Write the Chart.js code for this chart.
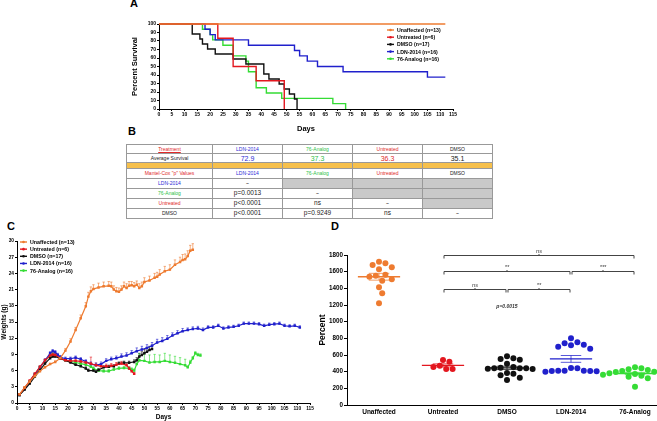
<!DOCTYPE html>
<html>
<head>
<meta charset="utf-8">
<script src="https://cdn.jsdelivr.net/npm/chart.js@4.4.1/dist/chart.umd.min.js"></script>
<style>
    html, body { margin: 0; padding: 0; width: 657px; height: 421px; overflow: hidden; background: #fff; }
    body { position: relative; font-family: "Liberation Sans", Arial, sans-serif; }
    canvas { position: absolute; }
    .panel { position: absolute; font-weight: bold; font-size: 11px; line-height: 11px; color: #000; }
    #survivalTable { position: absolute; left: 126px; top: 144px; width: 366px; border-collapse: collapse; table-layout: fixed;
        font-family: "Liberation Sans Narrow", "Liberation Sans", Arial, sans-serif; }
    #survivalTable td { border: 1px solid #999; padding: 0; text-align: center; vertical-align: middle; font-size: 5px;
        line-height: 5px; height: 8px; white-space: nowrap; overflow: hidden; color: #222; }
    #survivalTable tr.band td { background: #f6c04c; height: 5px; }
    #survivalTable tr.pv td { height: 9px; }
    #survivalTable td.gray { background: #c9c9c9; }
    #survivalTable td.big { font-size: 7px; line-height: 7px; }
    #survivalTable td.mid { font-size: 6.5px; line-height: 6.5px; }
    #survivalTable td.u { text-decoration: underline; }
</style>
</head>
<body>
<div class="panel" style="left:130px;top:-2px">A</div>
<div class="panel" style="left:128px;top:126px">B</div>
<div class="panel" style="left:7px;top:221px">C</div>
<div class="panel" style="left:331px;top:221px">D</div>

<canvas id="survival" width="340" height="126" style="left:128px;top:12px"></canvas>
<table id="survivalTable"></table>
<canvas id="weights" width="320" height="189" style="left:0px;top:232px"></canvas>
<canvas id="percent" width="360" height="189" style="left:318px;top:232px"></canvas>

<script>
    /* === DATA === */
    const groupNames = ["Unaffected (n=13)", "Untreated (n=6)", "DMSO (n=17)", "LDN-2014 (n=16)", "76-Analog (n=16)"];
    const groupColors = ["#ee7b30", "#e3171f", "#111111", "#2020cc", "#35dc35"];

    // A: Kaplan-Meier survival (day of event, percent surviving after it)
    const survUnaffectedDays = [0, 112];
    const survUnaffected = [100, 100];
    const survUntreatedDays = [0, 23, 29, 38, 49];
    const survUntreated = [100, 83.3, 50, 33.3, 0];
    const survDmsoDays = [0, 13, 16, 17, 19, 22, 29, 34, 41, 43, 47, 49, 51, 53, 54];
    const survDmso = [100, 88.2, 82.4, 76.5, 70.6, 64.7, 58.8, 52.9, 41.2, 35.3, 29.4, 23.5, 17.6, 11.8, 0];
    const survLdnDays = [0, 18, 20, 22, 35, 53, 55, 58, 62, 72, 105, 112];
    const survLdn = [100, 93.8, 87.5, 81.3, 75, 68.8, 62.5, 56.3, 50, 43.8, 37.5, 37.5];
    const survAnalogDays = [0, 17, 20, 21, 25, 29, 34, 35, 38, 42, 48, 68, 73];
    const survAnalog = [100, 93.8, 87.5, 81.3, 75, 62.5, 56.3, 43.8, 25, 18.8, 12.5, 6.3, 0];

    // B: table
    const tableTreatments = ["LDN-2014", "76-Analog", "Untreated", "DMSO"];
    const averageSurvival = ["72.9", "37.3", "36.3", "35.1"];
    const pValues = [
        ["~", null, null, null],
        ["p=0.0013", "~", null, null],
        ["p<0.0001", "ns", "~", null],
        ["p<0.0001", "p=0.9249", "ns", "~"],
    ];

    // C: weights (g) with SEM
    const wtUnaffectedDays = [1, 3, 5, 7, 9, 11, 13, 15, 17, 19, 21, 23, 25, 27, 28, 29, 30, 32, 34, 36, 37, 38, 39, 40, 41, 42, 43, 44, 45, 46, 47, 48, 49, 50, 52, 54, 55, 56, 58, 60, 62, 64, 65, 66, 67, 68, 69];
    const wtUnaffected = [1.6, 2.9, 4.0, 5.0, 5.9, 6.6, 7.2, 7.6, 8.3, 9.7, 11.4, 13.5, 15.7, 17.9, 19.7, 20.7, 21.1, 21.4, 21.6, 21.7, 21.6, 21.0, 20.7, 20.6, 21.0, 21.6, 21.3, 21.7, 21.8, 21.6, 21.9, 21.3, 21.6, 22.4, 22.7, 23.2, 23.4, 23.8, 24.4, 24.7, 25.6, 26.1, 26.5, 26.6, 27.2, 28.2, 28.4];
    const wtUnaffectedErr = [0.1, 0.1, 0.15, 0.2, 0.2, 0.2, 0.2, 0.2, 0.3, 0.4, 0.5, 0.5, 0.6, 0.7, 0.8, 0.8, 0.8, 0.8, 0.8, 0.8, 0.8, 0.7, 0.7, 0.7, 0.7, 0.8, 0.8, 0.8, 0.7, 0.7, 0.7, 0.8, 0.8, 0.8, 0.8, 0.8, 0.8, 0.9, 0.9, 0.9, 0.9, 0.9, 1.0, 1.0, 1.0, 1.0, 1.1];

    const wtUntreatedDays = [1, 3, 5, 7, 9, 11, 13, 14, 15, 17, 19, 21, 23, 25, 27, 29, 31, 33, 35, 37, 39, 41, 43, 44, 45, 46];
    const wtUntreated = [1.6, 2.8, 4.1, 5.4, 6.7, 7.9, 8.8, 9.0, 8.9, 8.3, 7.9, 7.8, 7.8, 7.7, 7.5, 7.3, 7.0, 6.8, 6.8, 6.9, 7.1, 7.3, 7.0, 6.4, 5.9, 5.4];
    const wtUntreatedErr = [0.1, 0.1, 0.2, 0.2, 0.2, 0.3, 0.3, 0.3, 0.3, 0.3, 0.3, 0.3, 0.3, 0.3, 0.3, 1.2, 0.4, 0.4, 0.4, 0.4, 0.4, 0.4, 0.3, 0.3, 0.3, 0.3];

    const wtDmsoDays = [1, 3, 5, 7, 9, 11, 13, 14, 15, 17, 19, 21, 23, 25, 27, 28, 30, 31, 32, 34, 36, 38, 40, 42, 44, 46, 47, 48, 49, 50, 51, 52, 53];
    const wtDmso = [1.5, 2.5, 3.6, 4.9, 6.1, 7.3, 8.3, 8.6, 8.6, 8.2, 7.9, 7.5, 7.1, 6.8, 6.4, 6.0, 6.0, 5.8, 6.1, 6.6, 6.7, 6.8, 7.3, 7.45, 7.45, 7.6, 7.9, 8.6, 8.9, 9.2, 9.5, 9.8, 10.0];
    const wtDmsoErr = [0.1, 0.1, 0.15, 0.2, 0.2, 0.25, 0.3, 0.3, 0.3, 0.3, 0.3, 0.3, 0.3, 0.3, 0.3, 0.3, 0.3, 0.3, 0.3, 0.3, 0.3, 0.3, 0.3, 0.3, 0.3, 0.4, 0.5, 0.6, 0.6, 0.7, 0.7, 0.7, 0.7];

    const wtLdnDays = [1, 3, 5, 7, 9, 11, 13, 14, 15, 16, 17, 19, 21, 23, 25, 27, 29, 31, 33, 35, 37, 39, 41, 43, 45, 47, 49, 51, 53, 55, 57, 59, 61, 63, 65, 67, 69, 71, 73, 75, 77, 79, 81, 83, 85, 87, 89, 91, 93, 95, 97, 99, 101, 103, 105, 107, 109, 111];
    const wtLdn = [1.5, 2.7, 4.0, 5.3, 6.6, 7.9, 9.2, 9.6, 9.4, 8.9, 8.5, 8.2, 8.2, 8.4, 8.1, 7.7, 7.2, 7.0, 7.2, 7.8, 8.1, 8.3, 8.6, 8.8, 9.2, 9.6, 9.9, 10.2, 10.6, 11.2, 11.5, 11.9, 12.5, 12.9, 13.3, 13.5, 13.7, 13.8, 13.5, 14.0, 14.0, 14.3, 13.8, 14.0, 14.1, 14.3, 14.7, 14.7, 14.7, 14.6, 14.3, 14.5, 14.6, 14.7, 14.3, 14.2, 14.3, 14.0];
    const wtLdnErr = [0.1, 0.1, 0.15, 0.2, 0.2, 0.25, 0.3, 0.3, 0.3, 0.3, 0.3, 0.3, 0.3, 0.3, 0.3, 0.3, 0.4, 0.4, 0.4, 0.4, 0.4, 0.4, 0.5, 0.5, 0.5, 0.6, 0.6, 0.6, 0.6, 0.6, 0.6, 0.6, 0.5, 0.5, 0.5, 0.4, 0.4, 0.4, 0.4, 0.3, 0.3, 0.3, 0.3, 0.3, 0.3, 0.3, 0.3, 0.3, 0.3, 0.3, 0.3, 0.3, 0.3, 0.3, 0.3, 0.3, 0.3, 0.3];

    const wtAnalogDays = [1, 3, 5, 7, 9, 11, 13, 14, 15, 17, 19, 21, 23, 25, 27, 29, 30, 32, 34, 36, 38, 40, 42, 44, 45, 46, 47, 48, 50, 52, 54, 56, 58, 60, 62, 64, 66, 67, 68, 69, 70, 71, 72];
    const wtAnalog = [1.5, 2.7, 4.0, 5.3, 6.6, 7.8, 8.8, 9.0, 8.8, 8.3, 7.9, 7.7, 7.5, 7.3, 7.1, 6.7, 6.4, 6.0, 5.9, 5.9, 6.2, 6.4, 6.5, 6.4, 6.2, 6.0, 7.2, 7.9, 7.8, 7.5, 7.6, 7.6, 7.8, 7.6, 7.45, 7.2, 7.0, 6.6, 7.5, 8.3, 9.2, 8.9, 8.8];
    const wtAnalogErr = [0.1, 0.1, 0.15, 0.2, 0.2, 0.25, 0.3, 0.3, 0.3, 0.3, 0.3, 0.3, 0.3, 0.3, 0.3, 0.3, 0.3, 0.3, 0.3, 0.3, 0.3, 0.3, 0.3, 0.3, 0.3, 0.3, 0.8, 1.2, 1.3, 1.4, 1.4, 1.3, 1.4, 1.3, 1.2, 1.2, 1.1, 0.3, 0.4, 0.3, 0.3, 0.3, 0.3];

    // D: percent per animal
    const dGroups = ["Unaffected", "Untreated", "DMSO", "LDN-2014", "76-Analog"];
    const pctUnaffected = [1720, 1700, 1680, 1652, 1628, 1564, 1552, 1540, 1508, 1492, 1412, 1340, 1220];
    const pctUntreated = [540, 520, 472, 456, 432, 432];
    const pctDmso = [584, 560, 552, 544, 496, 456, 448, 440, 440, 440, 436, 432, 384, 376, 356, 328, 300];
    const pctLdn = [800, 752, 740, 724, 716, 700, 676, 444, 440, 412, 412, 412, 408, 408, 404, 400];
    const pctAnalog = [452, 440, 428, 420, 408, 400, 396, 388, 380, 372, 368, 364, 352, 340, 320, 220];
    const dComparisons = [
        { from: 1, to: 4, value: 1800, label: "ns" },
        { from: 1, to: 3, value: 1610, label: "**" },
        { from: 3, to: 4, value: 1610, label: "***" },
        { from: 1, to: 2, value: 1390, label: "ns" },
        { from: 2, to: 3, value: 1390, label: "**" },
    ];

    /* === SETUP === */
    Chart.defaults.font.family = '"Liberation Sans", Arial, sans-serif';
    Chart.defaults.color = "#000";
    const FONT = '"Liberation Sans", Arial, sans-serif';

    const toPoints = (xs, ys) => xs.map((x, i) => ({ x, y: ys[i] }));

    function axis(min, max, step, title, titleSize, tickSize, extra = {}) {
        return {
            type: "linear", min, max,
            ticks: { stepSize: step, autoSkip: false, maxRotation: 0, padding: 1, font: { size: tickSize, weight: "bold" }, color: "#000",
                callback: v => String(v) },
            grid: { drawOnChartArea: false, tickLength: 2, color: "#000", lineWidth: 1 },
            border: { color: "#000", width: 1 },
            title: { display: true, text: title, font: { size: titleSize, weight: "bold" }, color: "#000", padding: 0 },
            ...extra,
        };
    }

    // legend drawn inside the plot area
    const insetLegend = {
        id: "insetLegend",
        afterDraw(chart, args, opts) {
            const { ctx, chartArea } = chart;
            ctx.save();
            ctx.font = `bold ${opts.size}px ${FONT}`;
            ctx.textBaseline = "middle";
            chart.data.datasets.forEach((ds, i) => {
                const x = chartArea.left + opts.x;
                const y = chartArea.top + opts.y + i * opts.gap;
                ctx.strokeStyle = ds.borderColor;
                ctx.lineWidth = 1.4;
                ctx.beginPath();
                ctx.moveTo(x, y);
                ctx.lineTo(x + opts.len, y);
                ctx.stroke();
                ctx.fillStyle = ds.borderColor;
                ctx.beginPath();
                ctx.arc(x + opts.len / 2, y, 1.3, 0, Math.PI * 2);
                ctx.fill();
                ctx.fillStyle = "#000";
                ctx.fillText(ds.label, x + opts.len + 3, y + 0.5);
            });
            ctx.restore();
        }
    };

    // upward SEM bars
    const errorBars = {
        id: "errorBars",
        beforeDatasetsDraw(chart) {
            const { ctx, scales: { x, y } } = chart;
            ctx.save();
            chart.data.datasets.forEach(ds => {
                if (!ds.errors) return;
                ctx.strokeStyle = ds.borderColor;
                ctx.lineWidth = 0.6;
                ds.data.forEach((p, i) => {
                    const px = x.getPixelForValue(p.x);
                    const base = y.getPixelForValue(p.y);
                    const top = y.getPixelForValue(p.y + ds.errors[i]);
                    ctx.beginPath();
                    ctx.moveTo(px, base);
                    ctx.lineTo(px, top);
                    ctx.moveTo(px - 1.2, top);
                    ctx.lineTo(px + 1.2, top);
                    ctx.stroke();
                });
            });
            ctx.restore();
        }
    };

    /* === A: SURVIVAL === */
    const survivalSeries = [
        [survUnaffectedDays, survUnaffected],
        [survUntreatedDays, survUntreated],
        [survDmsoDays, survDmso],
        [survLdnDays, survLdn],
        [survAnalogDays, survAnalog],
    ];

    new Chart(document.getElementById("survival"), {
        type: "line",
        data: {
            datasets: survivalSeries.map(([days, surv], i) => ({
                label: groupNames[i],
                data: toPoints(days, surv),
                borderColor: groupColors[i],
                backgroundColor: groupColors[i],
                borderWidth: 1.4,
                stepped: true,
                pointRadius: 0,
                clip: false,
            })),
        },
        options: {
            responsive: false,
            animation: false,
            layout: { padding: { left: 2, top: 12, right: 15, bottom: 5 } },
            plugins: {
                legend: { display: false },
                tooltip: { enabled: false },
                insetLegend: { x: 228, y: 6, gap: 7.2, len: 7, size: 5.2 },
            },
            scales: {
                x: axis(0, 115, 5, "Days", 7.5, 5, { afterFit: a => { a.height = 24; } }),
                y: axis(0, 100, 10, "Percent Survival", 7.5, 5, { afterFit: a => { a.width = 29; } }),
            },
        },
        plugins: [insetLegend],
    });

    /* === B: TABLE === */
    const treatColor = { "LDN-2014": "#2b2bd6", "76-Analog": "#2fbf4a", "Untreated": "#e02a2a", "DMSO": "#222" };
    const cell = (text, color, cls = "") => `<td class="${cls}" style="color:${color}">${text}</td>`;
    let rows = "<colgroup><col style='width:86px'><col style='width:70px'><col style='width:70px'><col style='width:70px'><col style='width:70px'></colgroup>";
    rows += "<tr>" + cell("Treatment", "#e02a2a", "u") + tableTreatments.map(t => cell(t, treatColor[t])).join("") + "</tr>";
    rows += "<tr>" + cell("Average Survival", "#222") + averageSurvival.map((v, i) => cell(v, treatColor[tableTreatments[i]], "big")).join("") + "</tr>";
    rows += "<tr class='band'>" + "<td></td>".repeat(5) + "</tr>";
    rows += "<tr class='pv'>" + cell('Mantel-Cox "p" Values', "#e02a2a") + tableTreatments.map(t => cell(t, treatColor[t])).join("") + "</tr>";
    pValues.forEach((row, r) => {
        rows += "<tr class='pv'>" + cell(tableTreatments[r], treatColor[tableTreatments[r]]) +
            row.map(v => v === null ? "<td class='gray'></td>" : cell(v.replace("<", "&lt;"), "#222", v === "~" ? "" : "mid")).join("") + "</tr>";
    });
    document.getElementById("survivalTable").innerHTML = rows;

    /* === C: WEIGHTS === */
    const weightSeries = [
        [wtUnaffectedDays, wtUnaffected, wtUnaffectedErr],
        [wtUntreatedDays, wtUntreated, wtUntreatedErr],
        [wtDmsoDays, wtDmso, wtDmsoErr],
        [wtLdnDays, wtLdn, wtLdnErr],
        [wtAnalogDays, wtAnalog, wtAnalogErr],
    ];

    new Chart(document.getElementById("weights"), {
        type: "line",
        data: {
            datasets: weightSeries.map(([days, w, err], i) => ({
                label: groupNames[i],
                data: toPoints(days, w),
                errors: err,
                borderColor: groupColors[i],
                backgroundColor: groupColors[i],
                borderWidth: 1.2,
                pointRadius: 0.9,
                pointStyle: "rect",
                tension: 0,
                clip: false,
            })),
        },
        options: {
            responsive: false,
            animation: false,
            layout: { padding: { left: 0, top: 9, right: 10, bottom: 0 } },
            plugins: {
                legend: { display: false },
                tooltip: { enabled: false },
                insetLegend: { x: 3, y: 1, gap: 7.15, len: 7, size: 5.3 },
            },
            scales: {
                x: axis(0, 115, 5, "Days", 6.5, 4.8, { afterFit: a => { a.height = 18; } }),
                y: axis(0, 30, 3, "Weights (g)", 6.5, 4.8, { afterFit: a => { a.width = 17; } }),
            },
        },
        plugins: [insetLegend, errorBars],
    });

    /* === D: PERCENT === */
    const pctGroups = [pctUnaffected, pctUntreated, pctDmso, pctLdn, pctAnalog];

    const meanSem = {
        id: "meanSem",
        afterDatasetsDraw(chart) {
            const { ctx, scales: { x, y } } = chart;
            const unit = x.getPixelForValue(1) - x.getPixelForValue(0);
            ctx.save();
            pctGroups.forEach((vals, g) => {
                const n = vals.length;
                const mean = vals.reduce((a, b) => a + b, 0) / n;
                const sd = Math.sqrt(vals.reduce((a, b) => a + (b - mean) ** 2, 0) / (n - 1));
                const sem = sd / Math.sqrt(n);
                const cx = x.getPixelForValue(g);
                const ym = y.getPixelForValue(mean), yt = y.getPixelForValue(mean + sem), yb = y.getPixelForValue(mean - sem);
                ctx.strokeStyle = groupColors[g];
                ctx.lineWidth = 1.4;
                ctx.beginPath();
                ctx.moveTo(cx - 0.33 * unit, ym);
                ctx.lineTo(cx + 0.33 * unit, ym);
                ctx.stroke();
                ctx.globalAlpha = 0.75;
                ctx.lineWidth = 1;
                ctx.beginPath();
                ctx.moveTo(cx - 0.16 * unit, yt); ctx.lineTo(cx + 0.16 * unit, yt);
                ctx.moveTo(cx - 0.16 * unit, yb); ctx.lineTo(cx + 0.16 * unit, yb);
                ctx.moveTo(cx, yt); ctx.lineTo(cx, yb);
                ctx.stroke();
                ctx.globalAlpha = 1;
            });
            ctx.restore();
        }
    };

    const brackets = {
        id: "brackets",
        afterDraw(chart) {
            const { ctx, scales: { x, y } } = chart;
            ctx.save();
            ctx.strokeStyle = "#444";
            ctx.fillStyle = "#333";
            ctx.lineWidth = 1;
            ctx.textAlign = "center";
            ctx.textBaseline = "bottom";
            ctx.font = `italic 5.5px ${FONT}`;
            dComparisons.forEach(c => {
                const x1 = x.getPixelForValue(c.from) + 1, x2 = x.getPixelForValue(c.to) - 1;
                const yy = Math.round(y.getPixelForValue(c.value)) + 0.5;
                const xm = (x1 + x2) / 2;
                ctx.beginPath();
                ctx.moveTo(x1, yy + 3); ctx.lineTo(x1, yy); ctx.lineTo(x2, yy); ctx.lineTo(x2, yy + 3);
                ctx.moveTo(xm, yy); ctx.lineTo(xm, yy - 1.5);
                ctx.stroke();
                ctx.fillText(c.label, xm, yy - 1.5);
            });
            ctx.font = `bold italic 5px ${FONT}`;
            ctx.textBaseline = "middle";
            ctx.fillText("p=0.0015", x.getPixelForValue(2), y.getPixelForValue(1180));
            ctx.restore();
        }
    };

    const percentChart = new Chart(document.getElementById("percent"), {
        type: "scatter",
        data: {
            datasets: pctGroups.map((vals, g) => ({
                label: dGroups[g],
                data: vals.map(v => ({ x: g, y: v })),
                backgroundColor: groupColors[g],
                borderColor: groupColors[g],
                pointRadius: 3,
                borderWidth: 0,
            })),
        },
        options: {
            responsive: false,
            animation: false,
            layout: { padding: { left: 0, top: 23, right: 11, bottom: 0 } },
            plugins: { legend: { display: false }, tooltip: { enabled: false } },
            scales: {
                x: {
                    type: "linear", min: -0.5, max: 4.5,
                    afterBuildTicks: a => { a.ticks = dGroups.map((_, i) => ({ value: i })); },
                    afterFit: a => { a.height = 16; },
                    ticks: { autoSkip: false, maxRotation: 0, padding: 3, font: { size: 6.5, weight: "bold" }, color: "#000",
                        callback: v => dGroups[v] },
                    grid: { display: false, drawTicks: false },
                    border: { color: "#000", width: 1 },
                },
                y: axis(0, 1800, 200, "Percent", 8.5, 6.3, {
                    afterFit: a => { a.width = 29; },
                    grid: { drawOnChartArea: false, tickLength: 3, color: "#000" },
                }),
            },
        },
        plugins: [meanSem, brackets],
    });

    // spread tied points sideways (beeswarm) using the laid-out scales
    function swarm(chart) {
        const { x, y } = chart.scales;
        const unit = x.getPixelForValue(1) - x.getPixelForValue(0);
        const diam = 6.4;
        chart.data.datasets.forEach((ds, g) => {
            const placed = [];
            ds.data = pctGroups[g].map(v => {
                const py = y.getPixelForValue(v);
                let off = 0;
                for (let k = 0; k < 60; k++) {
                    const cand = (k % 2 === 1 ? 1 : -1) * Math.ceil(k / 2) * diam / 2;
                    if (placed.every(p => Math.hypot(p.px - cand, p.py - py) >= diam)) { off = cand; break; }
                }
                placed.push({ px: off, py });
                return { x: g + off / unit, y: v };
            });
        });
        chart.update("none");
    }
    swarm(percentChart);
</script>
</body>
</html>
